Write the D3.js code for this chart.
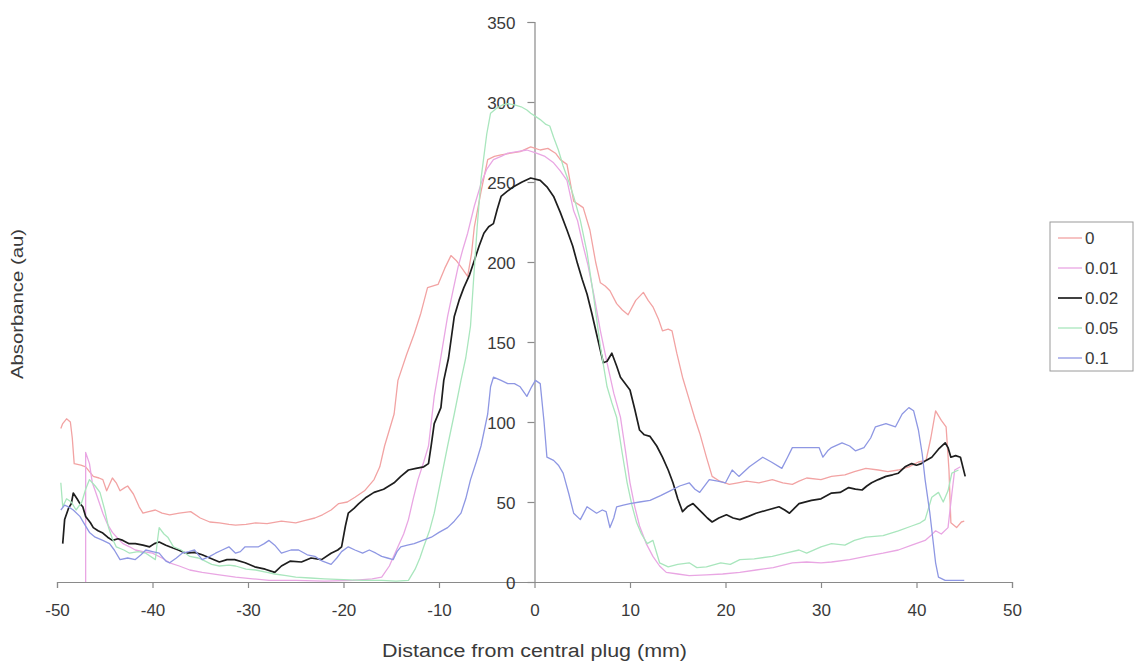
<!DOCTYPE html>
<html>
<head>
<meta charset="utf-8">
<script src="https://cdnjs.cloudflare.com/ajax/libs/d3/7.8.5/d3.min.js"></script>
<style>
  body { margin: 0; background: #fff; }
  text { font-family: "Liberation Sans", Arial, sans-serif; fill: #3a3a3a; }
</style>
</head>
<body>
<div class="chart"></div>
<script>
// series: [distance mm, absorbance]
const s0 = [[-49.6,96],[-49.4,99],[-49,102],[-48.6,100],[-48.4,90],[-48.2,74],[-47.5,73],[-47,72],[-46.6,69],[-46.2,66],[-45.6,65],[-45.2,64],[-44.8,57],[-44.2,65],[-43.8,62],[-43.4,57],[-42.9,59],[-42.6,60],[-42,55],[-41.4,47],[-41,43],[-40.4,44],[-39.7,45],[-39,43],[-38.2,42],[-37.2,43],[-36,44],[-35,40],[-34,37.5],[-33,37],[-32,36],[-31.3,35.6],[-30.2,36],[-29.2,37],[-28,36.5],[-26.5,38],[-25,37],[-24,38.5],[-23,40],[-22.2,42],[-21.3,45],[-20.5,49],[-19.6,50],[-18.8,53],[-17.8,57],[-16.8,64],[-16.2,72],[-15.7,85],[-15.2,95],[-14.7,105],[-14.3,126],[-13.4,142],[-12.6,155],[-11.9,168],[-11.2,184],[-10.1,186],[-9.4,196],[-8.75,204],[-8.2,201],[-7.7,197],[-7,191],[-6.6,205],[-6.3,222],[-5.6,244],[-4.9,264],[-4.2,266],[-3.5,267],[-2.5,268],[-1.5,269],[-0.4,272],[0.6,270],[1.4,271],[2.2,268],[2.7,264],[3.4,261],[4.1,238],[4.6,236],[5.1,234],[5.8,220],[6.4,200],[6.9,187],[7.4,185],[7.9,182],[8.6,174],[9.2,170],[9.8,167],[10.6,176],[11.4,181],[11.9,176],[12.4,172],[13,164],[13.4,157],[14,158],[14.4,157],[14.9,143],[15.5,128],[16.2,114],[16.8,102],[17.3,93],[18,78],[18.6,66],[19.4,63],[20.4,61],[21.3,62],[22.2,63],[23.5,62],[24.9,64],[26,62],[27,61],[27.7,63],[28.5,65],[30,64],[31.1,66],[32.5,67],[33.5,69],[34.7,71],[36,70],[37,69],[38.1,70],[39.2,72],[40.2,75],[41,76],[41.5,90],[42,107],[42.6,101],[43.1,97],[43.4,70],[43.6,37],[44.2,34],[44.7,37.5],[45,38]];
const s001 = [[-47,0],[-47,81],[-46.6,74],[-46.3,62],[-46,57],[-45.6,50],[-45.2,43],[-44.7,36],[-44.2,31],[-43.6,27],[-43.1,24],[-42.4,22],[-41.8,20],[-41,19],[-40,18],[-39,15],[-38.2,12],[-37.2,10],[-36.1,7.5],[-34.8,6],[-33,4.5],[-31.3,3],[-29.5,2],[-27.8,1],[-25,1],[-22,0.5],[-19,1],[-17,2],[-16,3],[-15.2,10],[-14.3,22],[-13.7,30],[-13.2,39],[-12.7,52],[-12.2,64],[-11.6,75],[-11.1,85],[-10.5,116],[-10.1,130],[-9.6,148],[-9.1,166],[-8.5,183],[-8,197],[-7.5,208],[-7,218],[-6.3,235],[-5.6,249],[-5,258],[-4.3,264],[-3.5,266],[-2.8,268],[-1.8,269],[-0.8,270],[0.2,268],[1.1,266],[2,262],[2.7,257],[3.4,251],[4.1,232],[4.5,226],[5.1,210],[5.6,198],[6.2,180],[6.9,157],[7.6,137],[8.3,118],[9,103],[9.5,83],[10,62],[10.5,47],[11,35],[11.7,24],[12.4,16],[13.1,10],[13.8,6],[15,5],[16.2,4],[18,4.5],[19.7,5],[21.5,6],[23.2,7.5],[25,9],[27,12],[28.5,12.5],[30,12],[31.1,12.5],[33,14],[34.7,16],[36.5,18],[38.1,20],[39.5,23],[40.9,26],[41.5,29],[42,32],[42.6,30],[43.3,34],[43.7,55],[44,70],[44.6,72]];
const s002 = [[-49.4,24],[-49.2,39],[-48.8,46],[-48.5,49],[-48.3,55.6],[-47.9,52],[-47.6,49],[-47.3,47],[-47,41],[-46.5,37],[-46.2,34],[-45.7,32],[-45.2,30.6],[-44.7,28],[-44.2,26],[-43.6,27],[-43.1,26],[-42.5,24],[-41.8,24],[-41,23],[-40.3,22],[-39.8,24],[-39.3,25],[-38.6,23],[-38.2,22],[-37.3,20],[-36.5,18],[-35.6,18.5],[-34.8,17],[-34,15],[-33,12.5],[-32.2,14],[-31.4,14],[-30.3,12],[-29.3,9.5],[-28.2,8],[-27.2,6],[-26.5,10],[-25.6,13],[-24.4,12.5],[-23.4,15],[-22.3,14],[-21.3,18],[-20.6,20],[-20.2,22],[-19.8,35],[-19.5,43],[-18.9,46],[-18.4,49],[-17.6,53],[-16.8,56],[-15.8,58],[-14.7,62],[-14,66],[-13.2,70],[-12.4,71],[-11.6,72],[-11.1,74],[-10.8,86],[-10.5,99],[-9.8,109],[-9.5,126],[-9,140],[-8.4,166],[-7.9,176],[-7.4,184],[-6.8,192],[-6.3,201],[-5.8,210],[-5.3,218],[-4.8,222],[-4.3,224],[-3.9,233],[-3.5,241],[-2.9,244],[-2.2,247],[-1.3,250],[-0.4,252.5],[0.6,251],[1.3,247],[2,241],[2.7,231],[3.4,220],[4,210],[4.5,199],[5,189],[5.5,180],[6,168],[6.5,155],[7.2,137],[7.6,138],[8.1,143],[8.6,135],[9,128],[10,120],[10.5,108],[11,95],[11.5,92],[12.1,91],[12.8,85],[13.4,78],[14,70],[14.5,62],[15,52],[15.5,44],[16,47],[16.6,49],[17.1,46],[17.6,43],[18.1,40],[18.6,37.5],[19.3,40],[20.1,42],[20.8,40],[21.5,39],[22.4,41],[23.2,43],[24.4,45],[25.6,47],[26.2,45],[26.7,43],[27.2,46],[27.7,49],[29,51],[30,52],[31.1,55.6],[32,56],[32.9,59],[33.6,58],[34.3,57.5],[34.8,60],[35.3,62],[36,64],[36.8,66],[37.5,67],[38.1,68],[38.8,72],[39.5,74],[40,73],[40.5,74],[41,76],[41.6,78],[42.3,83],[43,87],[43.3,84],[43.6,78],[44.1,79],[44.6,78],[45.1,66]];
const s005 = [[-49.6,62],[-49.4,47],[-49,52],[-48.5,50],[-48,45],[-47.4,50],[-47,58],[-46.6,64],[-46,60],[-45.5,56],[-45,45],[-44.6,34],[-44.2,27],[-43.8,22],[-43,20],[-42.4,18],[-41.5,19],[-40.7,18],[-39.7,14],[-39.5,25],[-39.3,34],[-38.8,30],[-38.4,28],[-37.8,22],[-37,20],[-36.1,16],[-35.2,15],[-34.8,14],[-33.8,11],[-33,10],[-32,10.5],[-31.3,10],[-30.2,8],[-29.2,7.5],[-28,6],[-27.2,5],[-26,4],[-25,3],[-23.5,2.5],[-22,2],[-20,1.5],[-18,1],[-16,1],[-14.5,0.5],[-13.2,1],[-12.5,8],[-12,15],[-11.6,22],[-11,32],[-10.5,43],[-9.8,64],[-9.1,85],[-8.4,105],[-7.7,126],[-7.2,140],[-6.7,160],[-6.4,187],[-6,222],[-5.6,252],[-5,280],[-4.6,293],[-4,296],[-3.4,298],[-2.8,299],[-2,298],[-1.4,297],[-0.8,295],[-0.4,293],[0.1,291],[0.6,289],[1.2,286],[1.6,285],[2,278],[2.5,270],[3,260],[3.6,250],[4.1,241],[4.8,226],[5.5,206],[6.2,178],[6.9,147],[7.6,122],[8.1,112],[8.6,103],[9.2,80],[9.7,62],[10.2,48],[10.7,37],[11.2,30],[11.8,24],[12.4,26],[12.8,18],[13.1,12],[14,9.5],[15,11],[16.2,12],[17,9],[18,9.5],[19.5,12],[20.5,11],[21.5,14],[23,14.5],[24.9,16],[26.3,18],[27.7,20],[28.5,18],[30,22],[31.1,24],[32.5,23],[33.5,26],[34.7,28],[36.5,29],[38.1,32],[39.5,35],[40.4,37],[40.9,39],[41.6,53],[42.3,56],[42.8,50],[43.3,57],[43.7,68],[44.4,70]];
const s01 = [[-49.6,45],[-49.2,48],[-48.8,47],[-48.3,45],[-47.6,41],[-47.2,37],[-46.6,31],[-46,28],[-45.2,26],[-44.5,24],[-44,20],[-43.4,14],[-42.6,15],[-41.8,14],[-41.2,17],[-40.7,20],[-40,19],[-39.3,18],[-38.6,13],[-38.2,12],[-37.5,15],[-36.9,18],[-36.2,19],[-35.6,20],[-35.2,17],[-34.8,14],[-34,16],[-33.4,18],[-32.7,20],[-32,22],[-31.3,18],[-30.8,19],[-30.3,22],[-29.5,22],[-28.9,22],[-28.3,24],[-27.8,26],[-27.2,23],[-26.5,18],[-25.5,20],[-24.7,20],[-23.8,17],[-23,16],[-22.2,13],[-21.3,11],[-20.7,15],[-20.2,19],[-19.5,22],[-18.8,20],[-18,18],[-17.3,20],[-16.6,18],[-16,16],[-15.4,15],[-14.8,14],[-14.4,19],[-14,22],[-13.3,23],[-12.6,24],[-11.7,26],[-10.8,28],[-10,31],[-9.1,34],[-8.4,38],[-7.7,43],[-7.2,52],[-6.7,64],[-6.1,75],[-5.6,85],[-4.9,105],[-4.6,122],[-4.3,128],[-3.5,126],[-2.8,124],[-2.1,124],[-1.5,122],[-0.8,116],[-0.3,122],[0.1,126],[0.6,124],[1,100],[1.3,78],[2,76],[2.5,73],[3,68],[3.6,55],[4.1,43],[4.8,39],[5.5,47],[6,45],[6.5,43],[7.1,45],[7.5,44],[7.9,34],[8.3,40],[8.6,47],[9.3,48],[10,49],[11,50],[12.1,51],[13.2,54],[14.2,57],[15.2,60],[16.2,62],[16.8,58],[17.3,56],[18.3,64],[19.2,63],[20,62],[20.7,70],[21.4,66],[22.5,72],[23.9,78],[24.8,75],[25.9,71],[26.5,78],[27,84],[28.3,84],[29.8,84],[30.2,78],[30.7,82],[31.1,84],[32.2,87],[33,85],[33.6,82],[34.5,84],[35.2,90],[35.7,97],[36.8,99],[37.8,97],[38.5,105],[39.2,109],[39.7,107],[40.2,95],[40.6,80],[40.9,64],[41.4,43],[42,12],[42.3,3],[43,1],[44,1],[45,1]];

const seriesNames = ["0", "0.01", "0.02", "0.05", "0.1"];
const seriesColors = ["#f2a3a3", "#e9a6e3", "#1e1e1e", "#a9e6bd", "#8e97e3"];
const xTicks = [-50, -40, -30, -20, -10, 0, 10, 20, 30, 40, 50];
const yTicks = [0, 50, 100, 150, 200, 250, 300, 350];

let width = 1139;
let height = 668;

let svg = d3.select(".chart").append("svg")
	.attr("width", width)
	.attr("height", height)

let xScale = d3.scaleLinear()
	.domain([-50, 50])
	.range([57, 1012])

let yScale = d3.scaleLinear()
	.domain([0, 350])
	.range([582, 22])

// axes cross at the origin, like the excel original
let xAxis = d3.axisBottom(xScale)
	.tickValues(xTicks)
	.tickSize(6)
	.tickPadding(16)
	.tickFormat(d => d)

let yAxis = d3.axisLeft(yScale)
	.tickValues(yTicks)
	.tickSize(7)
	.tickPadding(12)

let xG = svg.append("g")
	.attr("class", "axis")
	.attr("transform", "translate(0," + yScale(0) + ")")
	.call(xAxis)

let yG = svg.append("g")
	.attr("class", "axis")
	.attr("transform", "translate(" + xScale(0) + ",0)")
	.call(yAxis)

svg.selectAll(".axis path, .axis line")
	.attr("stroke", "#8a8a8a")
	.attr("stroke-width", 1.2)

svg.selectAll(".axis text")
	.attr("font-size", 17)
	.attr("fill", "#3a3a3a")

yG.selectAll("text").attr("dy", "0.36em")

let line = d3.line()
	.x(d => xScale(d[0]))
	.y(d => yScale(d[1]))

let allSeries = [s0, s001, s002, s005, s01];

svg.append("g")
	.selectAll("path")
	.data(allSeries)
	.join("path")
	.attr("d", line)
	.attr("fill", "none")
	.attr("stroke", (d, i) => seriesColors[i])
	.attr("stroke-width", (d, i) => i == 2 ? 1.7 : 1.3)
	.attr("stroke-linejoin", "round")

svg.append("text")
	.attr("x", xScale(0))
	.attr("y", 657)
	.attr("text-anchor", "middle")
	.attr("font-size", 18)
	.attr("textLength", 305)
	.attr("lengthAdjust", "spacingAndGlyphs")
	.text("Distance from central plug (mm)")

svg.append("text")
	.attr("transform", "translate(23," + 304 + ") rotate(-90)")
	.attr("text-anchor", "middle")
	.attr("font-size", 17)
	.attr("textLength", 150)
	.attr("lengthAdjust", "spacingAndGlyphs")
	.text("Absorbance (au)")

// legend
let legend = svg.append("g")
	.attr("transform", "translate(1050,222)")

legend.append("rect")
	.attr("width", 83)
	.attr("height", 149)
	.attr("fill", "#fff")
	.attr("stroke", "#9a9a9a")
	.attr("stroke-width", 1)

let items = legend.selectAll("g.item")
	.data(seriesNames)
	.join("g")
	.attr("class", "item")
	.attr("transform", (d, i) => "translate(0," + (16 + i * 30) + ")")

items.append("line")
	.attr("x1", 8)
	.attr("x2", 32)
	.attr("stroke", (d, i) => seriesColors[i])
	.attr("stroke-width", (d, i) => i == 2 ? 1.7 : 1.3)

items.append("text")
	.attr("x", 35)
	.attr("dy", "0.36em")
	.attr("font-size", 17)
	.text(d => d)
</script>
</body>
</html>
